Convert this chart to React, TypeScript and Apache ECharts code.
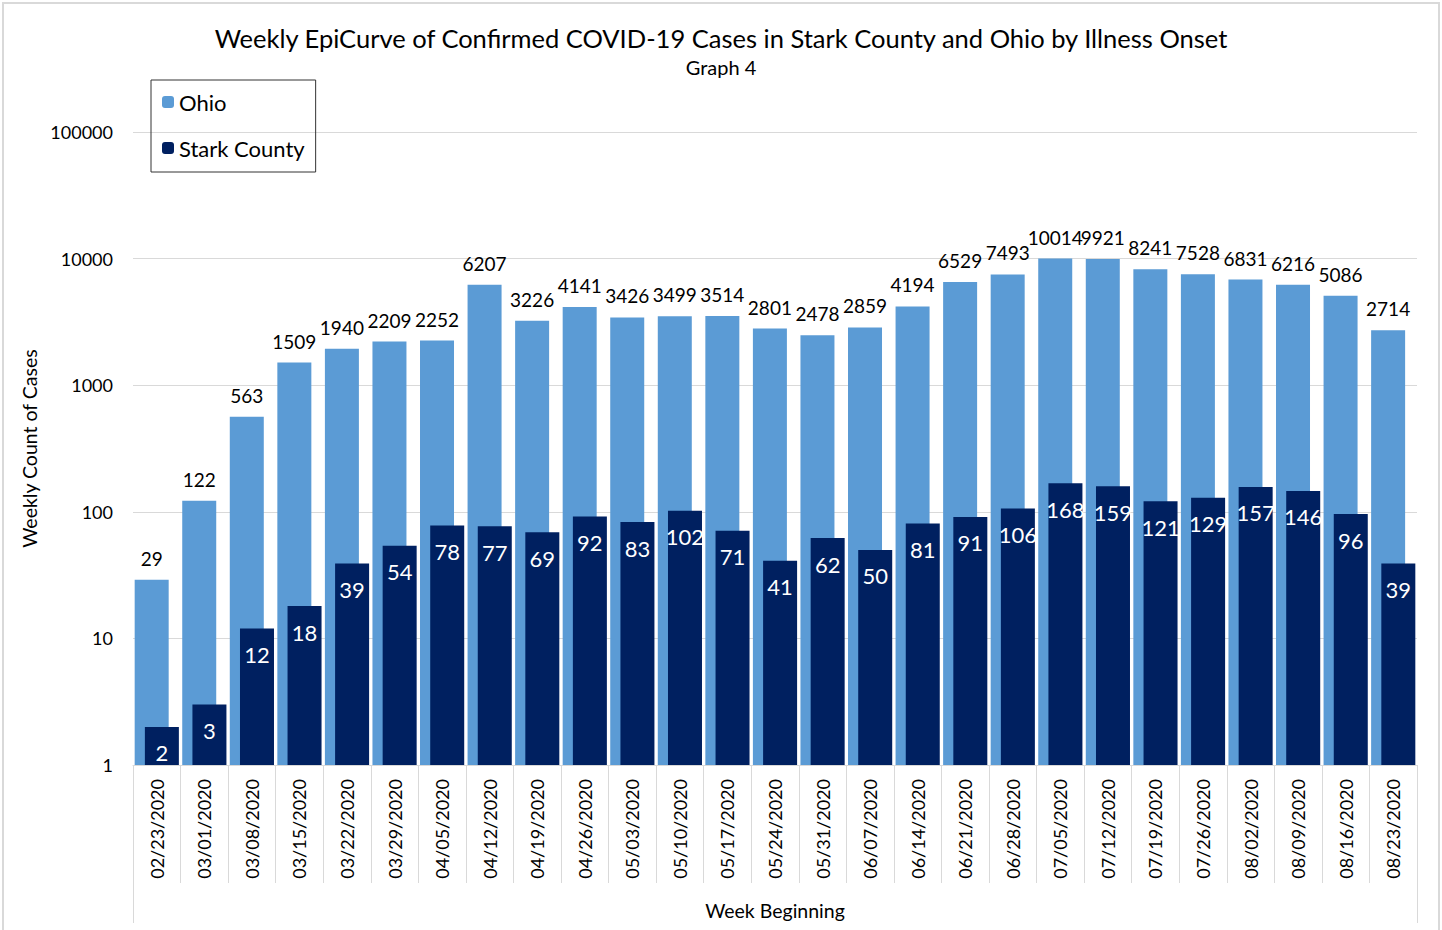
import React, { useEffect, useRef } from "react";
import * as echarts from "echarts";

const weeks = [
  "02/23/2020", "03/01/2020", "03/08/2020", "03/15/2020", "03/22/2020", "03/29/2020",
  "04/05/2020", "04/12/2020", "04/19/2020", "04/26/2020", "05/03/2020", "05/10/2020",
  "05/17/2020", "05/24/2020", "05/31/2020", "06/07/2020", "06/14/2020", "06/21/2020",
  "06/28/2020", "07/05/2020", "07/12/2020", "07/19/2020", "07/26/2020", "08/02/2020",
  "08/09/2020", "08/16/2020", "08/23/2020",
];
const ohio = [
  29, 122, 563, 1509, 1940, 2209, 2252, 6207, 3226, 4141, 3426, 3499, 3514, 2801,
  2478, 2859, 4194, 6529, 7493, 10014, 9921, 8241, 7528, 6831, 6216, 5086, 2714,
];
const stark = [
  2, 3, 12, 18, 39, 54, 78, 77, 69, 92, 83, 102, 71, 41, 62, 50, 81, 91, 106, 168,
  159, 121, 129, 157, 146, 96, 39,
];

const FONT = "Lato";

export default function App() {
  const ref = useRef<HTMLDivElement>(null);
  useEffect(() => {
    if (!ref.current) return;
    const chart = echarts.init(ref.current, null, { renderer: "svg" });
    chart.setOption({
      animation: false,
      backgroundColor: "#fff",
      textStyle: { fontFamily: FONT },
      title: {
        text: "Weekly EpiCurve of Confirmed COVID-19 Cases in Stark County and Ohio by Illness Onset",
        subtext: "Graph 4",
        left: "center",
        top: 20,
        itemGap: 6,
        textStyle: { fontFamily: FONT, fontSize: 25.5, fontWeight: "normal", color: "#000" },
        subtextStyle: { fontFamily: FONT, fontSize: 20, color: "#000" },
      },
      legend: {
        orient: "vertical",
        left: 151,
        top: 80,
        itemWidth: 12,
        itemHeight: 12,
        itemGap: 24,
        padding: [11, 11, 13, 11],
        borderColor: "#333",
        borderWidth: 1,
        textStyle: { fontFamily: FONT, fontSize: 22, color: "#000" },
        data: ["Ohio", "Stark County"],
      },
      graphic: [
        {
          type: "rect",
          shape: { x: 3, y: 3, width: 1436, height: 950 },
          style: { fill: "none", stroke: "#d9d9d9", lineWidth: 2 },
          silent: true,
        },
      ],
      grid: { left: 133, right: 25, top: 132, bottom: 165, containLabel: false },
      xAxis: [
        {
          type: "category",
          data: weeks,
          position: "bottom",
          axisLine: { show: true, lineStyle: { color: "#d9d9d9" } },
          axisTick: { show: true, interval: 0, length: 118, lineStyle: { color: "#d9d9d9" } },
          axisLabel: { interval: 0, rotate: 90, margin: 14, fontSize: 18, color: "#000", fontFamily: FONT },
        },
        {
          type: "category",
          data: ["Week Beginning"],
          position: "bottom",
          axisLine: { show: false },
          axisTick: { show: true, length: 158, lineStyle: { color: "#d9d9d9" } },
          axisLabel: { margin: 135, fontSize: 19.5, color: "#000", fontFamily: FONT },
        },
      ],
      yAxis: {
        type: "log",
        logBase: 10,
        min: 1,
        max: 100000,
        name: "Weekly Count of Cases",
        nameLocation: "middle",
        nameGap: 92,
        nameTextStyle: { fontFamily: FONT, fontSize: 19.5, color: "#000" },
        axisLine: { show: false },
        axisTick: { show: false },
        splitLine: { show: true, lineStyle: { color: "#d9d9d9" } },
        axisLabel: {
          margin: 20,
          fontSize: 18,
          color: "#000",
          fontFamily: FONT,
          formatter: (v: number) => String(Math.round(v)),
        },
      },
      series: [
        {
          name: "Ohio",
          type: "bar",
          data: ohio,
          barWidth: 34,
          barGap: "-70%",
          itemStyle: { color: "#5b9bd5" },
          label: { show: true, position: "top", distance: 12, fontSize: 19, color: "#000", fontFamily: FONT },
        },
        {
          name: "Stark County",
          type: "bar",
          data: stark,
          barWidth: 34,
          barGap: "-70%",
          itemStyle: { color: "#002060" },
          label: { show: true, position: "insideTop", distance: 15, fontSize: 22, color: "#fff", fontFamily: FONT },
        },
      ],
    });
    return () => chart.dispose();
  }, []);
  return (
    <div
      ref={ref}
      style={{ position: "absolute", left: 0, top: 0, width: 1442, height: 930 }}
    />
  );
}
